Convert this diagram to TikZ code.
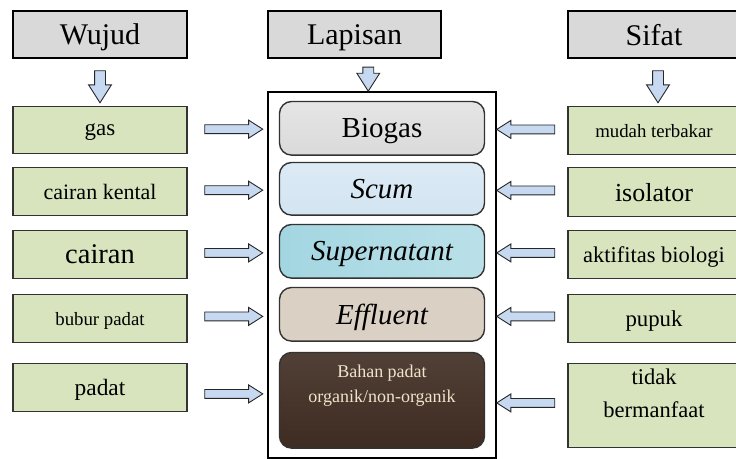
\documentclass[tikz,border=0pt]{standalone}
\usepackage{fontspec}
\setmainfont{Liberation Serif}
\usetikzlibrary{shapes.arrows, positioning}
\definecolor{headgray}{HTML}{D9D9D9}
\definecolor{boxgreen}{HTML}{D7E4BD}
\definecolor{arrowblue}{HTML}{C6D9F1}
\definecolor{biogasgray}{HTML}{DADADA}
\definecolor{scumblue}{HTML}{D3E5F2}
\definecolor{supercyan}{HTML}{A3D6E1}
\definecolor{effbeige}{HTML}{DAD1C4}
\definecolor{sludgebrown}{HTML}{3E2B21}
\definecolor{creamtext}{HTML}{EFE4CB}
\tikzstyle{header} = [rectangle, draw=black, line width=1.8pt, fill=headgray, minimum width=174pt, minimum height=47.2pt, text depth=0pt, font=\fontsize{30}{32}\selectfont]
\tikzstyle{prop} = [rectangle, draw=black!80, line width=1.4pt, fill=boxgreen, minimum width=174pt, minimum height=47.6pt, text depth=0pt, align=center]
\tikzstyle{layer} = [rectangle, rounded corners=12pt, draw=black!80, line width=1.4pt, minimum width=205pt, minimum height=53.6pt, text depth=0pt, font=\fontsize{29}{32}\selectfont]
\tikzstyle{blockarr} = [single arrow, draw=black!85, line width=0.9pt, fill=arrowblue, inner sep=0pt, inner ysep=4pt, single arrow head extend=4.5pt, single arrow tip angle=65, single arrow head indent=0pt, minimum height=58pt]
\tikzstyle{rarr} = [blockarr, xshift=-3pt]
\tikzstyle{larr} = [blockarr, shape border rotate=180, xshift=3pt]
\tikzstyle{darr} = [blockarr, shape border rotate=270, inner xsep=5pt, inner ysep=5pt, single arrow head extend=6pt, minimum height=32pt]

\begin{document}
\begin{tikzpicture}[x=1pt, y=1pt]
\useasboundingbox (0,0) rectangle (736,-458);
\clip (0,0) rectangle (736,-458);

% headers
\node (wujud) [header] at (100,-34.5) {Wujud};
\node (lapisan) [header, minimum width=173pt] at (354.5,-34.5) {Lapisan};
\node (sifat) [header, minimum width=172pt] at (654,-34.5) {Sifat};

% wujud column
\node (gas) [prop, below=47pt of wujud, minimum height=46.6pt, font=\fontsize{23}{25}\selectfont] {gas};
\node (kental) [prop, below=13pt of gas, font=\fontsize{22}{24}\selectfont] {cairan kental};
\node (cairan) [prop, below=14pt of kental, font=\fontsize{28.5}{30}\selectfont] {cairan};
\node (bubur) [prop, below=15pt of cairan, font=\fontsize{18.8}{21}\selectfont] {bubur padat};
\node (padat) [prop, below=20pt of bubur, font=\fontsize{23.4}{25}\selectfont] {padat};

% lapisan column
\node (frame) [rectangle, draw=black, line width=2.4pt, fill=white, minimum width=228pt, minimum height=366pt] at (382,-275) {};
\node (biogas) [layer, top color=biogasgray!70, bottom color=biogasgray, below=10pt of frame.north] {Biogas};
\node (scum) [layer, top color=scumblue!80, bottom color=scumblue, below=6pt of biogas, minimum height=52.6pt] {\itshape Scum};
\node (super) [layer, left color=supercyan, right color=supercyan!75, below=8pt of scum] {\itshape Supernatant};
\node (effl) [layer, fill=effbeige, below=8pt of super] {\itshape Effluent};
\node (bahan) [layer, top color=sludgebrown!90!white, bottom color=sludgebrown, text=creamtext, below=10pt of effl, minimum height=95.6pt, align=center, text depth=34pt, font=\fontsize{18}{25}\selectfont] {Bahan padat\\organik/non-organik};

% sifat column
\node (mudah) [prop, minimum width=172pt, below=47pt of sifat, font=\fontsize{18.8}{21}\selectfont] {mudah terbakar};
\node (isolator) [prop, minimum width=172pt, below=12pt of mudah, minimum height=48.6pt, font=\fontsize{26}{28}\selectfont] {isolator};
\node (aktif) [prop, minimum width=172pt, below=13pt of isolator, font=\fontsize{22.5}{24}\selectfont] {aktifitas biologi};
\node (pupuk) [prop, minimum width=172pt, below=15pt of aktif, font=\fontsize{22.8}{25}\selectfont] {pupuk};
\node (tidak) [prop, minimum width=172pt, below=20pt of pupuk, minimum height=83.6pt, inner ysep=2pt, text depth=24pt, font=\fontsize{22.5}{33}\selectfont] {tidak\\bermanfaat};

% arrows
\path (wujud.south) -- node[darr] {} (gas.north);
\path (lapisan.south) -- node[darr, minimum height=24pt] {} (frame.north);
\path (sifat.south) -- node[darr, xshift=4pt] {} (mudah.north);

\path (gas.east) -- node[rarr] {} (biogas.west);
\path (kental.east) -- node[rarr] {} (scum.west);
\path (cairan.east) -- node[rarr] {} (super.west);
\path (bubur.east) -- node[rarr] {} (effl.west);
\path (padat.east) -- node[rarr] {} (bahan.west);

\path (mudah.west) -- node[larr] {} (biogas.east);
\path (isolator.west) -- node[larr] {} (scum.east);
\path (aktif.west) -- node[larr] {} (super.east);
\path (pupuk.west) -- node[larr] {} (effl.east);
\path (tidak.west) -- node[larr] {} (bahan.east);
\end{tikzpicture}
\end{document}
